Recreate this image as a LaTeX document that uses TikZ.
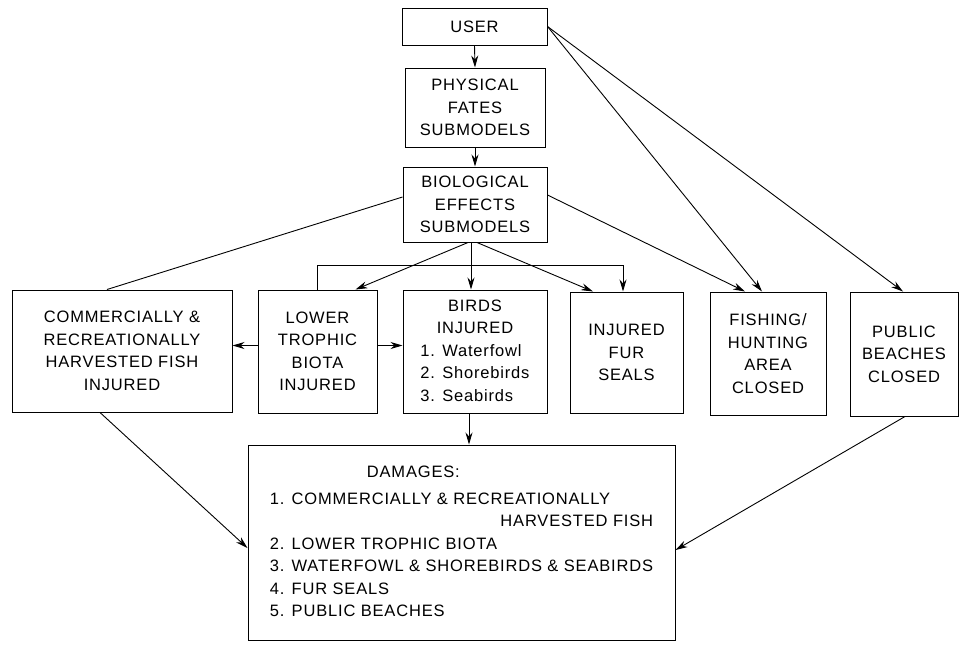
\documentclass[tikz,border=0pt]{standalone}
\usepackage{fontspec}
\setmainfont[LetterSpace=5]{Liberation Sans}
\usetikzlibrary{arrows.meta}
\tikzset{
  box/.style={draw, line width=1pt, inner sep=0pt, align=center,
    font=\fontsize{16.5}{22.5}\selectfont},
  arr/.style={line width=0.9pt, -{Stealth[length=12pt,width=7pt]}},
  ln/.style={line width=0.9pt}
}
\begin{document}
\begin{tikzpicture}[x=1pt,y=-1pt]
\useasboundingbox (0,0) rectangle (961,646);
% boxes
\node[box, minimum width=145pt, minimum height=37pt] (user) at (474.5,26.5) {USER};
\node[box, minimum width=140pt, minimum height=79pt] (phys) at (475,107.5) {PHYSICAL\\FATES\\SUBMODELS};
\node[box, minimum width=144pt, minimum height=75pt] (bio) at (475,204.5) {BIOLOGICAL\\EFFECTS\\SUBMODELS};
\node[box, minimum width=220pt, minimum height=122pt] (comm) at (122,351) {COMMERCIALLY \&\\RECREATIONALLY\\HARVESTED FISH\\INJURED};
\node[box, minimum width=119pt, minimum height=123pt] (lower) at (317.5,351.5) {LOWER\\TROPHIC\\BIOTA\\INJURED};
\node[box, minimum width=144pt, minimum height=123pt] (birds) at (475,351.5) {\begin{tabular}{@{}l@{}}\multicolumn{1}{@{}c@{}}{BIRDS}\\\multicolumn{1}{@{}c@{}}{INJURED}\\1. Waterfowl\\2. Shorebirds\\3. Seabirds\end{tabular}};
\node[box, minimum width=113pt, minimum height=121pt] (fur) at (626.5,352.5) {INJURED\\FUR\\SEALS};
\node[box, minimum width=116pt, minimum height=123pt] (fish) at (768,353.5) {FISHING/\\HUNTING\\AREA\\CLOSED};
\node[box, minimum width=108pt, minimum height=124pt] (public) at (904,354) {PUBLIC\\BEACHES\\CLOSED};
\node[box, minimum width=427pt, minimum height=195pt] (dam) at (461.5,542.5) {\begin{tabular}{@{}l@{}}\hspace{97pt}DAMAGES:\\[4pt]1. COMMERCIALLY \& RECREATIONALLY\\\multicolumn{1}{@{}r@{}}{HARVESTED FISH}\\2. LOWER TROPHIC BIOTA\\3. WATERFOWL \& SHOREBIRDS \& SEABIRDS\\4. FUR SEALS\\5. PUBLIC BEACHES\end{tabular}};
\coordinate (br) at (0,265);
% connectors
\draw[arr] (user.south) -- (phys.north);
\draw[arr] (phys.south) -- (bio.north);
\draw[ln] ([yshift=7.5pt]bio.west) -- ([xshift=-15pt]comm.north);
\draw[arr] ([xshift=-7pt]bio.south) -- ([xshift=-22pt]lower.north east);
\draw[arr] ([xshift=-4pt]bio.south) -- ([xshift=-4pt]birds.north);
\draw[arr] ([xshift=2pt]bio.south) -- ([xshift=-33.5pt]fur.north);
\draw[arr] ([yshift=9.5pt]bio.east) -- ([xshift=-23pt]fish.north);
\draw[arr] (user.east) -- ([xshift=-6pt]fish.north);
\draw[arr] (user.east) -- ([xshift=-1pt]public.north);
\draw[arr] (lower.north) -- (lower.north |- br) -| ([xshift=-3.5pt]fur.north);
\draw[arr] ([yshift=6pt]lower.west) -- ([yshift=6pt]lower.west -| comm.east);
\draw[arr] ([yshift=6pt]lower.east) -- ([yshift=6pt]lower.east -| birds.west);
\draw[arr] ([xshift=-6pt]birds.south) -- ([xshift=-6pt]birds.south |- dam.north);
\draw[arr] ([xshift=-22pt]comm.south) -- ([yshift=-5.5pt]dam.west);
\draw[arr] ([xshift=1pt]public.south) -- ([yshift=-7.5pt]dam.east);
\end{tikzpicture}
\end{document}
